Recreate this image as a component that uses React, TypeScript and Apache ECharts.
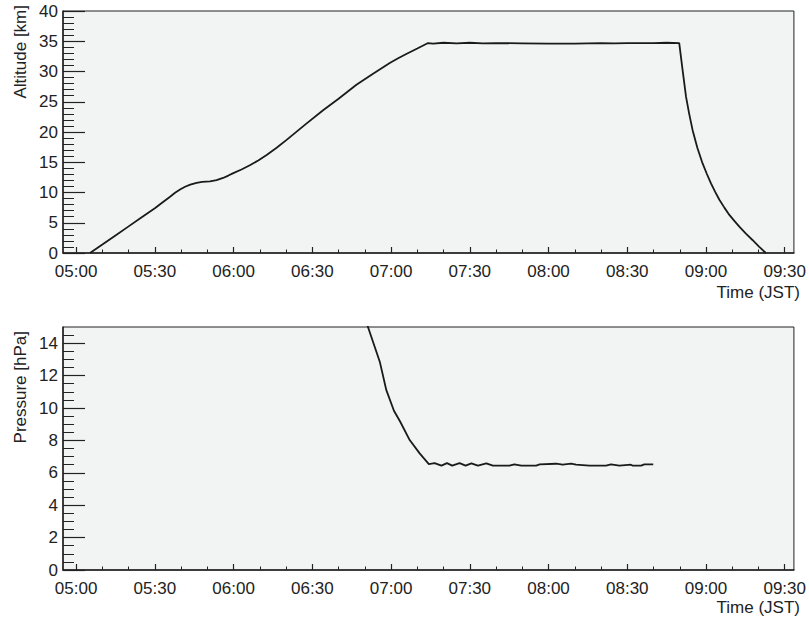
import React, { useEffect, useRef } from "react";
import * as echarts from "echarts";

// Flight profile: times are minutes since 00:00 (JST)
const altitudeTimes = [
  305.3, 310, 315, 320, 325, 330, 333, 335.8, 337.7, 339.6, 341.5, 343.5, 345.9,
  348, 351, 353.5, 356, 358, 359.9, 363, 366.2, 369.4, 372.6, 376.4, 380.2,
  387.5, 394.1, 400, 406.8, 413, 419.5, 422.7, 425.8, 430, 434.1,
  436, 440, 445, 450, 455, 460, 470, 480, 490, 500, 505, 510, 520, 525, 529.8,
  531.1, 532.4, 533.6, 534.9, 536.7, 538.7, 540.3, 541.9, 543.5, 545.1, 547,
  548.9, 550.8, 552.7, 555.2, 557.7, 560.2, 562.8,
];
const altitudeKm = [
  0, 1.4, 2.9, 4.4, 5.9, 7.4, 8.4, 9.3, 9.95, 10.5, 10.95, 11.3, 11.6,
  11.75, 11.85, 12.05, 12.4, 12.8, 13.2, 13.8, 14.5, 15.3, 16.2, 17.4, 18.7,
  21.3, 23.6, 25.5, 27.8, 29.6, 31.4, 32.2, 32.9, 33.8, 34.7,
  34.6, 34.75, 34.65, 34.75, 34.65, 34.7, 34.65, 34.6, 34.6, 34.7, 34.65, 34.7, 34.7, 34.75, 34.7,
  30.2, 25.8, 23.0, 20.3, 17.4, 14.8, 13.1, 11.5, 10.1, 8.8, 7.5,
  6.3, 5.3, 4.35, 3.2, 2.15, 1.05, 0,
];

const pressureTimes = [
  410.2, 415.7, 418.2, 421.1, 423.5, 427.1, 430.9, 434.4, 436.6, 439.2, 441.3,
  443.3, 446.1, 448.4, 450.6, 453.1, 456.3, 458.8, 465.1, 467.0, 469.6, 475.3,
  476.6, 482.9, 485.4, 488.6, 490.5, 495.6, 501.9, 503.8, 507.0, 511.4, 512.1,
  515.3, 516.5, 519.9,
];
const pressureHPa = [
  15.48, 12.86, 11.1, 9.83, 9.15, 8.02, 7.2, 6.54, 6.6, 6.44, 6.6,
  6.44, 6.6, 6.44, 6.58, 6.44, 6.58, 6.44, 6.44, 6.52, 6.44, 6.44,
  6.52, 6.56, 6.5, 6.56, 6.5, 6.44, 6.44, 6.52, 6.44, 6.5, 6.44,
  6.44, 6.52, 6.52,
];

// Axis ticks
const timeMajorTicks = [300, 330, 360, 390, 420, 450, 480, 510, 540, 570];
const timeMinorTicks = [
  300, 310, 320, 330, 340, 350, 360, 370, 380, 390, 400, 410, 420, 430, 440,
  450, 460, 470, 480, 490, 500, 510, 520, 530, 540, 550, 560, 570,
];
const altitudeMinorTicks = [
  1, 2, 3, 4, 6, 7, 8, 9, 11, 12, 13, 14, 16, 17, 18, 19, 21, 22, 23, 24,
  26, 27, 28, 29, 31, 32, 33, 34, 36, 37, 38, 39,
];
const pressureMajorTicks = [0, 2, 4, 6, 8, 10, 12, 14];
const pressureMinorTicks = [
  0.5, 1, 1.5, 2.5, 3, 3.5, 4.5, 5, 5.5, 6.5, 7, 7.5, 8.5, 9, 9.5, 10.5, 11,
  11.5, 12.5, 13, 13.5, 14.5,
];

const FONT = '"Liberation Sans", Arial, Helvetica, sans-serif';
const INK = "#222";

const fmtTime = (v: number) => {
  const h = Math.floor(v / 60);
  const m = Math.round(v - h * 60);
  return `${String(h).padStart(2, "0")}:${String(m).padStart(2, "0")}`;
};

const pairs = (xs: number[], ys: number[]) => xs.map((x, i) => [x, ys[i]]);

function timeAxes(gridIndex: number) {
  return [
    {
      type: "value",
      gridIndex,
      position: "bottom",
      min: 295,
      max: 573.5,
      axisLine: { show: true, onZero: false, lineStyle: { color: INK, width: 1.5 } },
      axisTick: {
        show: true,
        inside: true,
        length: 6,
        customValues: timeMajorTicks,
        lineStyle: { color: INK, width: 1.2 },
      },
      axisLabel: {
        customValues: timeMajorTicks,
        formatter: (v: number) => fmtTime(v),
        fontSize: 17,
        fontFamily: FONT,
        color: INK,
        margin: 10,
      },
      splitLine: { show: false },
    },
    {
      type: "value",
      gridIndex,
      position: "bottom",
      min: 295,
      max: 573.5,
      axisLine: { show: false, onZero: false },
      axisTick: {
        show: true,
        inside: true,
        length: 3.5,
        customValues: timeMinorTicks,
        lineStyle: { color: INK, width: 1 },
      },
      axisLabel: { show: false },
      splitLine: { show: false },
    },
  ];
}

const textStyle = (text: string) => ({
  text,
  fontSize: 17,
  fontFamily: FONT,
  fill: INK,
  align: "right",
  verticalAlign: "middle",
  textAlign: "right",
  textVerticalAlign: "middle",
});

export default function App() {
  const ref = useRef<HTMLDivElement>(null);

  useEffect(() => {
    if (!ref.current) return;
    const chart = echarts.init(ref.current, undefined, { renderer: "svg" });

    const gridStyle = {
      show: true,
      backgroundColor: "#f2f3f3",
      borderColor: INK,
      borderWidth: 1,
    };

    chart.setOption({
      animation: false,
      backgroundColor: "#ffffff",
      grid: [
        { left: 63, top: 11, width: 732, height: 242, ...gridStyle },
        { left: 63, top: 327, width: 732, height: 243, ...gridStyle },
      ],
      xAxis: [...timeAxes(0), ...timeAxes(1)],
      yAxis: [
        {
          type: "value",
          gridIndex: 0,
          position: "left",
          min: 0,
          max: 40,
          interval: 5,
          axisLine: { show: true, onZero: false, lineStyle: { color: INK, width: 1.5 } },
          axisTick: { show: true, inside: true, length: 22, lineStyle: { color: INK, width: 1.2 } },
          axisLabel: { fontSize: 17, fontFamily: FONT, color: INK, margin: 5 },
          splitLine: { show: false },
        },
        {
          type: "value",
          gridIndex: 0,
          position: "left",
          min: 0,
          max: 40,
          axisLine: { show: false, onZero: false },
          axisTick: {
            show: true,
            inside: true,
            length: 11,
            customValues: altitudeMinorTicks,
            lineStyle: { color: INK, width: 1 },
          },
          axisLabel: { show: false },
          splitLine: { show: false },
        },
        {
          type: "value",
          gridIndex: 1,
          position: "left",
          min: 0,
          max: 15,
          axisLine: { show: true, onZero: false, lineStyle: { color: INK, width: 1.5 } },
          axisTick: {
            show: true,
            inside: true,
            length: 22,
            customValues: pressureMajorTicks,
            lineStyle: { color: INK, width: 1.2 },
          },
          axisLabel: {
            customValues: pressureMajorTicks,
            fontSize: 17,
            fontFamily: FONT,
            color: INK,
            margin: 5,
          },
          splitLine: { show: false },
        },
        {
          type: "value",
          gridIndex: 1,
          position: "left",
          min: 0,
          max: 15,
          axisLine: { show: false, onZero: false },
          axisTick: {
            show: true,
            inside: true,
            length: 11,
            customValues: pressureMinorTicks,
            lineStyle: { color: INK, width: 1 },
          },
          axisLabel: { show: false },
          splitLine: { show: false },
        },
      ],
      series: [
        {
          type: "line",
          xAxisIndex: 0,
          yAxisIndex: 0,
          data: pairs(altitudeTimes, altitudeKm),
          showSymbol: false,
          clip: true,
          lineStyle: { color: "#1a1a1a", width: 1.8 },
        },
        {
          type: "line",
          xAxisIndex: 2,
          yAxisIndex: 2,
          data: pairs(pressureTimes, pressureHPa),
          showSymbol: false,
          clip: true,
          lineStyle: { color: "#1a1a1a", width: 1.8 },
        },
      ],
      graphic: [
        { type: "text", x: 800, y: 292, style: textStyle("Time (JST)") },
        { type: "text", x: 800, y: 607, style: textStyle("Time (JST)") },
        { type: "text", x: 20, y: 5, rotation: Math.PI / 2, style: textStyle("Altitude [km]") },
        { type: "text", x: 20, y: 331, rotation: Math.PI / 2, style: textStyle("Pressure [hPa]") },
      ],
    });

    return () => chart.dispose();
  }, []);

  return (
    <div
      ref={ref}
      style={{ position: "fixed", left: 0, top: 0, width: 809, height: 619 }}
    />
  );
}
